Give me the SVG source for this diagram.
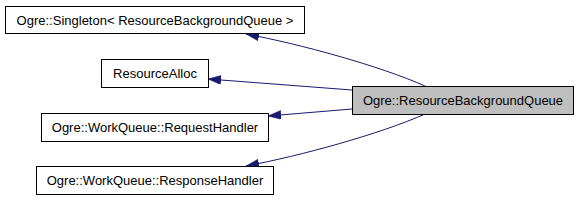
<svg xmlns="http://www.w3.org/2000/svg" width="579" height="200" viewBox="0 0 579 200">
<style>
.box{fill:#ffffff;stroke:#000000;stroke-width:1}
.main{fill:#bfbfbf;stroke:#000000;stroke-width:1}
.lbl{font-family:"Liberation Sans",Arial,sans-serif;font-size:13px;fill:#000000;text-anchor:middle}
.edge{fill:none;stroke:#191970;stroke-width:1}
</style>
<defs>
<marker id="arr" markerUnits="userSpaceOnUse" markerWidth="14" markerHeight="10" refX="13" refY="4.5" orient="auto">
<path d="M0,0 L13,4.5 L0,9 z" fill="#191970" stroke="#191970" stroke-width="0.5"/>
</marker>
</defs>
<rect width="579" height="200" fill="#ffffff"/>
<g id="edges">
<path class="edge" d="M425,86 C380,66 300,44 246,34" marker-end="url(#arr)"/>
<path class="edge" d="M352,90 L208,79" marker-end="url(#arr)"/>
<path class="edge" d="M352,109 L268,116" marker-end="url(#arr)"/>
<path class="edge" d="M425,114 C380,134 300,156 246,166" marker-end="url(#arr)"/>
</g>
<g id="node-main">
<rect class="main" x="352.5" y="86.5" width="221" height="28"/>
<text class="lbl" x="463" y="105">Ogre::ResourceBackgroundQueue</text>
</g>
<g id="node-singleton">
<rect class="box" x="5.5" y="6.5" width="299" height="27"/>
<text class="lbl" x="155" y="25">Ogre::Singleton&lt; ResourceBackgroundQueue &gt;</text>
</g>
<g id="node-alloc">
<rect class="box" x="101.5" y="59.5" width="107" height="28"/>
<text class="lbl" x="155" y="78">ResourceAlloc</text>
</g>
<g id="node-request">
<rect class="box" x="41.5" y="113.5" width="227" height="28"/>
<text class="lbl" x="155" y="132">Ogre::WorkQueue::RequestHandler</text>
</g>
<g id="node-response">
<rect class="box" x="36.5" y="166.5" width="237" height="28"/>
<text class="lbl" x="155" y="185">Ogre::WorkQueue::ResponseHandler</text>
</g>
</svg>
